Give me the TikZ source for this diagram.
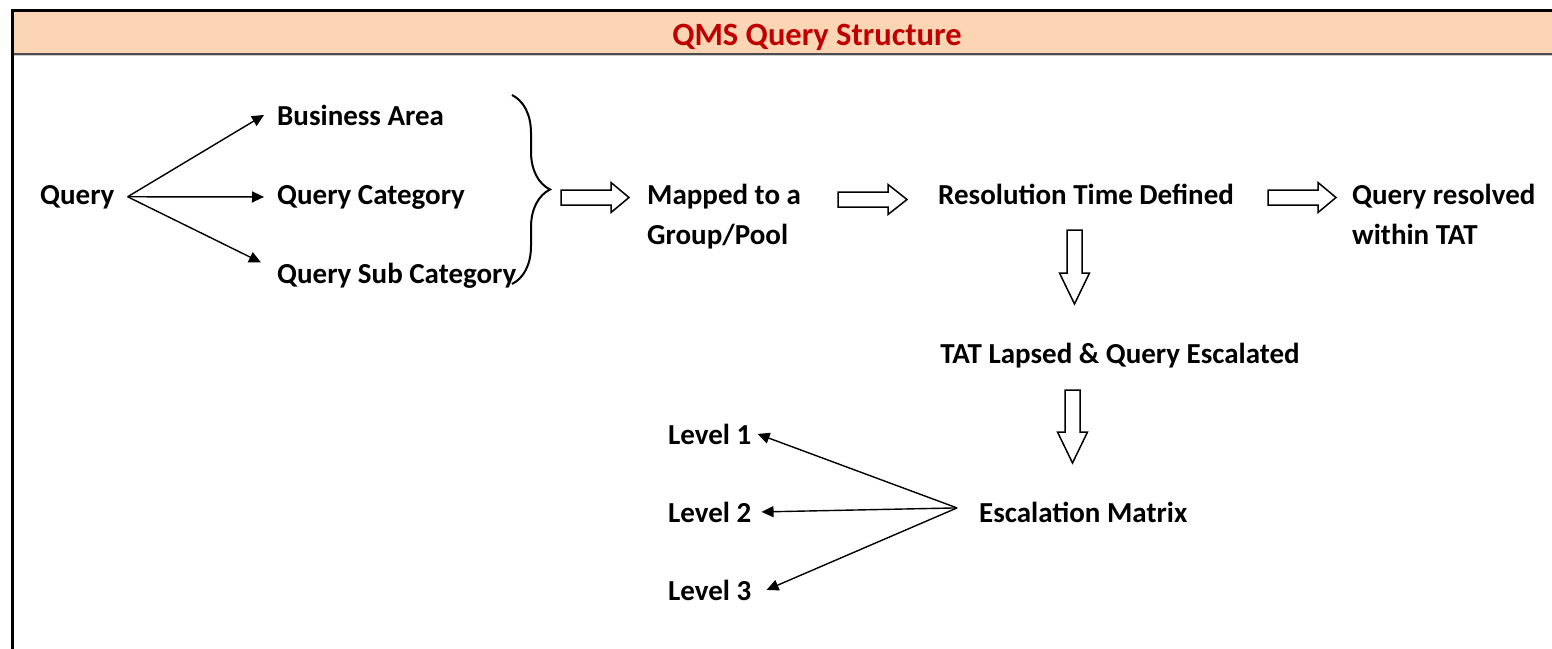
\documentclass[tikz,border=0pt]{standalone}
\usepackage{fontspec}
\setmainfont{Carlito}
\usetikzlibrary{arrows.meta,decorations.pathreplacing,positioning}
\definecolor{peach}{HTML}{FCD5B4}
\definecolor{darkred}{HTML}{C00000}

\tikzset{
  lbl/.style={font=\bfseries\fontsize{29}{40}\selectfont, inner sep=0pt, align=left, anchor=base west},
  link/.style={line width=1.4pt, -{Triangle[length=12pt,width=11pt]}},
  % hollow block arrow: #1 = total length, #2 = head length
  pics/hollow/.style 2 args={code={
    \draw[line width=1.5pt, fill=white, line join=miter]
      (0,-7.5) -- ({#1-#2},-7.5) -- ({#1-#2},-15) -- (#1,0)
      -- ({#1-#2},15) -- ({#1-#2},7.5) -- (0,7.5) -- cycle;}}
}

\begin{document}
\begin{tikzpicture}[x=1pt,y=-1pt]
    \useasboundingbox (0,0) rectangle (1552,648);
    % frame and title bar
    \fill[peach] (12,10) rectangle (1570,53.5);
    \draw[line width=1.6pt,black!70] (12,54) -- (1570,54);
    \draw[line width=1.6pt,black!20] (12,55.6) -- (1570,55.6);
    \draw[line width=3pt] (12.3,680) -- (12.3,10) -- (1570,10);
    \node[font=\bfseries\fontsize{32.5}{38}\selectfont, text=darkred, inner sep=0pt, anchor=base] (title) at (817,45) {QMS Query Structure};

    %query and its three attributes
    \node[lbl] (query) at (40,204) {Query};
    \node[lbl] (ba) at (277,125) {Business Area};
    \node[lbl] (qc) at (277,204) {Query Category};
    \node[lbl] (qsc) at (277,283) {Query Sub Category};
    \draw[link] ([xshift=13pt]query.east) -- ([xshift=-13pt]ba.west);
    \draw[link] ([xshift=13pt]query.east) -- ([xshift=-13pt]qc.west);
    \draw[link] ([xshift=13pt]query.east) -- ([xshift=-16pt]qsc.north west);
    \draw[line width=2pt, decorate, decoration={brace, amplitude=38pt}] (512,95) -- (512,284);

    %main flow (two-line labels sit on their last baseline)
    \node[lbl] (map) at (647,244) {Mapped to a\\Group/Pool};
    \node[lbl] (res) at (938,204) {Resolution Time Defined};
    \node[lbl] (done) at (1352,244) {Query resolved\\within TAT};
    \node[lbl, anchor=base] (lapse) at (1120,363) {TAT Lapsed \& Query Escalated};
    \node[lbl] (esc) at (979,522) {Escalation Matrix};
    \pic at (561,197.5) {hollow={68}{18}};
    \pic at (838,199.5) {hollow={69}{19}};
    \pic at (1268,197.5) {hollow={68}{18}};
    \pic[rotate=-90] at (1074.5,230) {hollow={74}{31}};
    \pic[rotate=-90] at (1072.5,390) {hollow={73}{31}};

    %escalation levels
    \node[lbl] (l1) at (668,444) {Level 1};
    \node[lbl] (l2) at (668,522) {Level 2};
    \node[lbl] (l3) at (668,600) {Level 3};
    \coordinate (fan) at ([xshift=-22pt,yshift=4pt]esc.west);
    \draw[link] (fan) -- ([xshift=6pt]l1.east);
    \draw[link] (fan) -- ([xshift=10pt]l2.east);
    \draw[link] (fan) -- ([xshift=15pt]l3.east);
\end{tikzpicture}
\end{document}
